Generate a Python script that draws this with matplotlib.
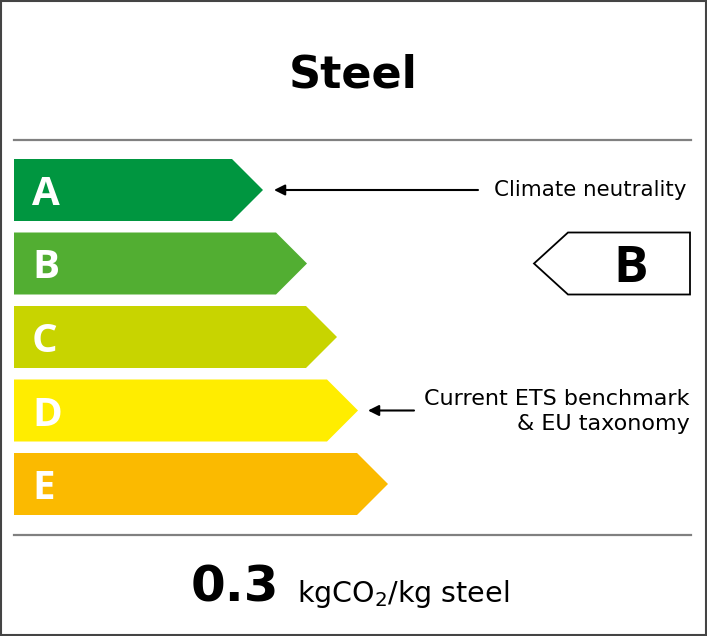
import matplotlib.pyplot as plt
from matplotlib.patches import Polygon, Rectangle

# ===== label data =====
title = "Steel"
classes = ["A", "B", "C", "D", "E"]
class_colors = ["#009640", "#52AE32", "#C8D400", "#FFED00", "#FBBA00"]
tip_x = [263, 307, 337, 358, 388]      # right tip of each class arrow (px)
rating = "B"
value = "0.3"
unit = r"kgCO$_2$/kg steel"
notes = {"A": "Climate neutrality", "D": "Current ETS benchmark\n& EU taxonomy"}

# ===== layout (pixel coordinates) =====
W, H = 707, 636
left = 14
top0 = 159
pitch = 73.5
bar_h = 62

fig = plt.figure(figsize=(W / 100, H / 100), dpi=100)
ax = fig.add_axes([0, 0, 1, 1])
ax.set_xlim(0, W)
ax.set_ylim(H, 0)
ax.axis('off')

# frame
ax.add_patch(Rectangle((0.5, 0.5), W - 1.5, H - 1.5, fill=False, ec='#444444', lw=1.5))

# title + separators
ax.text(W / 2, 87, title, ha='center', va='baseline', fontsize=32,
        fontweight='bold', family='DejaVu Sans')
for y in [140, 535]:
    ax.plot([left, 691], [y, y], color='#808080', lw=1.6)

# class arrows
for i, (c, col, tx) in enumerate(zip(classes, class_colors, tip_x)):
    top = top0 + i * pitch
    half = bar_h / 2
    pts = [(left, top), (tx - half, top), (tx, top + half),
           (tx - half, top + bar_h), (left, top + bar_h)]
    ax.add_patch(Polygon(pts, closed=True, fc=col, ec='none'))
    ax.text(left + 18, top + half + 15, c, ha='left', va='baseline',
            fontsize=29, fontweight='bold', color='white', family='Open Sans')

    if c in notes:
        cy = top + half
        n_lines = notes[c].count("\n") + 1
        if n_lines == 1:
            ax.annotate("", xy=(tx + 11, cy), xytext=(478, cy),
                        arrowprops=dict(arrowstyle='-|>', color='black', lw=1.5,
                                        mutation_scale=16, shrinkA=0, shrinkB=0))
            ax.text(686, cy, notes[c], ha='right', va='center', fontsize=15.4,
                    family='DejaVu Sans')
        else:
            ax.annotate("", xy=(tx + 10, cy), xytext=(414, cy),
                        arrowprops=dict(arrowstyle='-|>', color='black', lw=1.5,
                                        mutation_scale=16, shrinkA=0, shrinkB=0))
            ax.text(690, cy + 1, notes[c], ha='right', va='center', fontsize=16,
                    family='DejaVu Sans', linespacing=1.3, multialignment='right')

# rating indicator
ri = classes.index(rating)
rtop = top0 + ri * pitch
rpts = [(534, rtop + bar_h / 2), (568, rtop), (690, rtop),
        (690, rtop + bar_h), (568, rtop + bar_h)]
ax.add_patch(Polygon(rpts, closed=True, fc='white', ec='black', lw=1.3))
ax.text(631, rtop + bar_h / 2 + 19, rating, ha='center', va='baseline',
        fontsize=37, fontweight='bold', color='black', family='Open Sans')

# value line
ax.text(279, 602, value, ha='right', va='baseline', fontsize=36,
        fontweight='bold', family='DejaVu Sans')
ax.text(297, 602, unit, ha='left', va='baseline', fontsize=20.5,
        family='DejaVu Sans')

fig.savefig('out.png', dpi=100)
